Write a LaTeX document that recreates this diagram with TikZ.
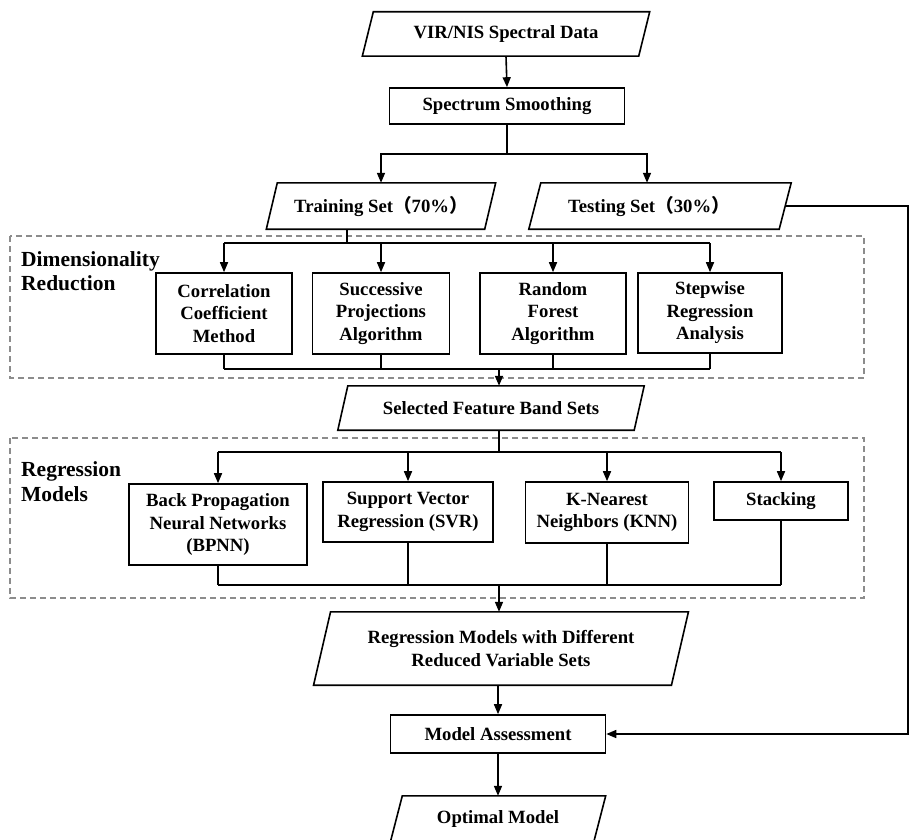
\documentclass[tikz,border=0pt]{standalone}
\usepackage{fontspec}
\setmainfont{Liberation Serif}
\newfontfamily\cjkfont{Noto Sans CJK SC}
\usetikzlibrary{arrows.meta}
\newcommand\myparal[2]{\draw[line width=1.6pt] ([xshift=#2pt]#1.north west) -- ([xshift=#2pt]#1.north east) -- ([xshift=-#2pt]#1.south east) -- ([xshift=-#2pt]#1.south west) -- cycle;}
\begin{document}
\begin{tikzpicture}[x=1pt,y=-1pt,
  box/.style={draw, line width=1.6pt, align=center, inner sep=0pt, font=\bfseries\fontsize{18.7}{22.5}\selectfont},
  ptext/.style={align=center, inner sep=0pt, font=\bfseries\fontsize{18.7}{22.5}\selectfont},
  arr/.style={line width=1.6pt, -{Triangle[length=10pt,width=8pt]}},
  ln/.style={line width=1.6pt},
  grp/.style={draw=black!45, dash pattern=on 6pt off 4pt, line width=1.3pt},
  lab/.style={font=\bfseries\fontsize{21.5}{24.5}\selectfont, align=left, inner sep=0pt, anchor=west}]
\useasboundingbox (0,0) rectangle (910,840);
\fill[white] (0,0) rectangle (910,840);
\clip (0,0) rectangle (910,840);

% group frames
\draw[grp] (10,236) rectangle (864,378);
\draw[grp] (10,438) rectangle (864,598);
\node[lab] (dimlab) at (21,271) {Dimensionality\\Reduction};
\node[lab] (reglab) at (21,481.5) {Regression\\Models};

% top chain
\node[ptext, minimum width=276pt, minimum height=44pt] (vir) at (506,34) {VIR/NIS Spectral Data};
\myparal{vir}{5.5}
\node[box, minimum width=235pt, minimum height=36pt] (smooth) at (507,106) {Spectrum Smoothing};
\node[ptext, minimum width=218pt, minimum height=46pt] (train) at (381,206) {Training Set{\cjkfont （}70\%{\cjkfont ）}};
\myparal{train}{5.5}
\node[ptext, minimum width=250pt, minimum height=46pt] (test) at (660,206) {};
\myparal{test}{6}
\node[ptext] (testtxt) at ([xshift=-11pt]test.center) {Testing Set{\cjkfont （}30\%{\cjkfont ）}};

% dimensionality reduction row
\node[box, minimum width=136.5pt, minimum height=81pt] (c1) at (224,313.5) {Correlation\\Coefficient\\Method};
\node[box, minimum width=137pt, minimum height=81pt] (c2) at (381,313.5) {Successive\\Projections\\Algorithm};
\node[box, minimum width=145.5pt, minimum height=81pt] (c3) at (553,313.5) {Random\\Forest\\Algorithm};
\node[box, minimum width=144pt, minimum height=80pt] (c4) at (710,313) {Stepwise\\Regression\\Analysis};

\node[ptext, minimum width=296pt, minimum height=44pt] (sel) at (491,408) {Selected Feature Band Sets};
\myparal{sel}{5}

% regression models row
\node[box, minimum width=177.5pt, minimum height=81pt] (r1) at (218,524.5) {Back Propagation\\Neural Networks\\(BPNN)};
\node[box, minimum width=170pt, minimum height=60pt] (r2) at (408,512) {Support Vector\\Regression (SVR)};
\node[box, minimum width=163pt, minimum height=61pt] (r3) at (607,512.5) {K-Nearest\\Neighbors (KNN)};
\node[box, minimum width=134.5pt, minimum height=38pt] (r4) at (781,501) {Stacking};

\node[ptext, minimum width=357.5pt, minimum height=73pt] (reg) at (501,648.5) {Regression Models with Different\\Reduced Variable Sets};
\myparal{reg}{8.5}
\node[box, minimum width=215pt, minimum height=38pt] (assess) at (498,734) {Model Assessment};
\node[ptext, minimum width=203pt, minimum height=46pt] (opt) at (498,819) {Optimal Model};
\myparal{opt}{6}

% coordinates
\coordinate (s1) at (507,154);
\coordinate (t1) at (347,243);
\coordinate (m1) at (499,369);
\coordinate (b2) at (499,452);
\coordinate (m2) at (499,585);
\coordinate (fb) at (908,470);

% connectors
\draw[arr] (vir.south) -- (smooth.north);
\draw[ln] (smooth.south) -- (s1);
\draw[arr] (s1) -| (train.north);
\draw[arr] (s1) -| ([xshift=-13pt]test.north);

\draw[ln] ([xshift=-34pt]train.south) -- (t1);
\draw[ln] (c1.north |- t1) -- (c4.north |- t1);
\foreach \n in {c1,c2,c3,c4} \draw[arr] (\n.north |- t1) -- (\n.north);
\foreach \n in {c1,c2,c3,c4} \draw[ln] (\n.south) -- (\n.south |- m1);
\draw[ln] (c1.south |- m1) -- (c4.south |- m1);
\draw[arr] (m1) -- (m1 |- sel.north);

\draw[ln] (sel.south -| b2) -- (b2);
\draw[ln] (r1.north |- b2) -- (r4.north |- b2);
\foreach \n in {r1,r2,r3,r4} \draw[arr] (\n.north |- b2) -- (\n.north);
\foreach \n in {r1,r2,r3,r4} \draw[ln] (\n.south) -- (\n.south |- m2);
\draw[ln] (r1.south |- m2) -- (r4.south |- m2);
\draw[arr] (m2) -- (m2 |- reg.north);

\draw[arr] (assess.north |- reg.south) -- (assess.north);
\draw[arr] (assess.south) -- (opt.north);
\draw[arr] (test.east) -- (test.east -| fb) -- (assess.east -| fb) -- (assess.east);
\end{tikzpicture}
\end{document}
